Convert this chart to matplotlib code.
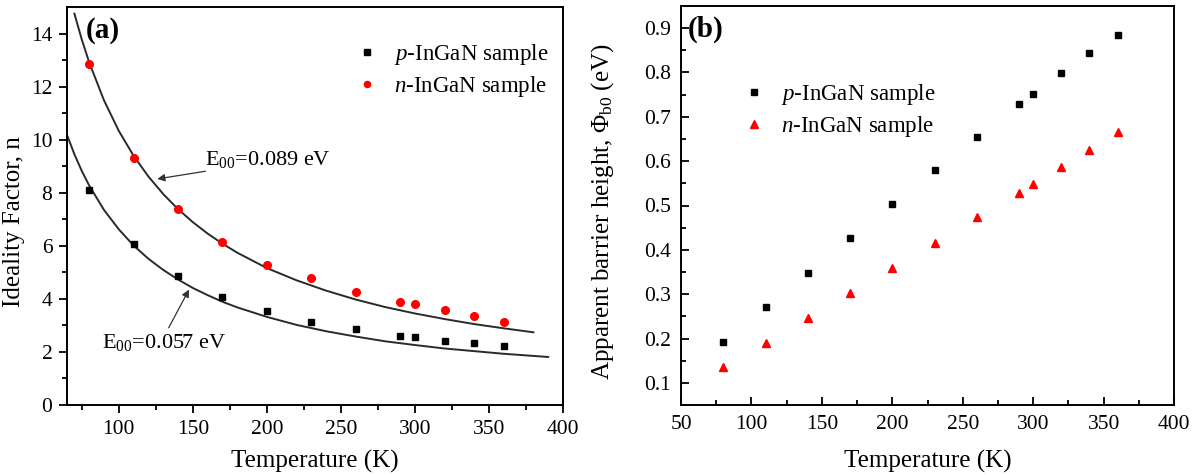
import matplotlib.pyplot as plt
import numpy as np

plt.rcParams['font.family'] = ['Liberation Serif', 'DejaVu Serif']
plt.rcParams['mathtext.fontset'] = 'custom'
plt.rcParams['mathtext.rm'] = 'Liberation Serif'
plt.rcParams['mathtext.it'] = 'Liberation Serif:italic'

# measured points (a): ideality factor
temps = [80, 110, 140, 170, 200, 230, 260, 290, 300, 320, 340, 360]
n_p = [8.12, 6.05, 4.85, 4.06, 3.56, 3.12, 2.85, 2.60, 2.56, 2.43, 2.34, 2.24]
n_n = [12.85, 9.31, 7.40, 6.16, 5.29, 4.77, 4.26, 3.90, 3.79, 3.57, 3.37, 3.13]

# fit curves
fit1_t = [70, 75, 80, 90, 100, 110, 120, 130, 140, 150, 160, 170, 180, 200,
          220, 240, 260, 280, 300, 320, 340, 360, 380]
fit1_n = [14.75, 13.77, 12.91, 11.48, 10.33, 9.39, 8.61, 7.95, 7.38, 6.89, 6.46,
          6.08, 5.74, 5.16, 4.70, 4.31, 3.975, 3.69, 3.45, 3.24, 3.05, 2.89, 2.74]
fit2_t = [65, 70, 75, 80, 90, 100, 110, 120, 130, 140, 150, 160, 170, 180, 200,
          220, 240, 260, 280, 300, 320, 340, 360, 380, 390]
fit2_n = [10.18, 9.45, 8.82, 8.27, 7.35, 6.62, 6.01, 5.51, 5.09, 4.73, 4.41, 4.14,
          3.89, 3.68, 3.32, 3.02, 2.78, 2.58, 2.40, 2.26, 2.13, 2.03, 1.93, 1.85, 1.81]

# measured points (b): barrier height
phi_p = [0.193, 0.271, 0.348, 0.426, 0.503, 0.580, 0.655, 0.728, 0.752, 0.799, 0.843, 0.885]
phi_n = [0.135, 0.190, 0.246, 0.303, 0.359, 0.415, 0.473, 0.529, 0.548, 0.587, 0.626, 0.665]

W, H = 1194, 475
fig = plt.figure(figsize=(W / 100, H / 100), dpi=100)
axa = fig.add_axes([67 / W, (H - 405) / H, 496 / W, 398 / H])
axb = fig.add_axes([681 / W, (H - 405) / H, 493 / W, 399 / H])


def style(ax, direction):
    for s in ax.spines.values():
        s.set_linewidth(1.4)
    ax.tick_params(which='both', direction=direction, top=False, right=False,
                   labelsize=15.5, width=1.3, pad=5)
    ax.tick_params(which='major', length=5.5)
    ax.tick_params(which='minor', length=3.5)


# panel (a)
axa.plot(fit1_t, fit1_n, color='#2a2a2a', lw=1.4)
axa.plot(fit2_t, fit2_n, color='#2a2a2a', lw=1.4)
axa.plot(temps, n_p, 's', color='black', ms=5, label=r'$\it{p}$-InGaN sample')
axa.plot(temps, n_n, 'o', color='red', ms=5.5, label=r'$\it{n}$-InGaN sample')
axa.set_xlim(65, 400)
axa.set_ylim(0, 15)
axa.set_xticks(np.arange(100, 401, 50))
axa.set_xticks(np.arange(75, 401, 25), minor=True)
axa.set_yticks(np.arange(0, 15, 2))
axa.set_yticks(np.arange(0, 15, 1), minor=True)
style(axa, 'out')
axa.set_xlabel('Temperature (K)', fontsize=18)
axa.set_ylabel('Ideality Factor, n', fontsize=18)
axa.xaxis.set_label_coords(0.5, -0.112)
axa.yaxis.set_label_coords(-0.084, 0.46)
axa.text(0.037, 0.975, '(a)', transform=axa.transAxes, fontsize=21,
         fontweight='bold', va='top', ha='left')
axa.legend(loc='upper left', bbox_to_anchor=(0.559, 0.94), frameon=False,
           fontsize=16.5, handlelength=1.0, handletextpad=0.68, borderpad=0,
           labelspacing=0.3, markerscale=0.8)
axa.annotate(r'E$_{00}$=0.089 eV', xy=(126, 8.52), xytext=(158.5, 9.25),
             fontsize=16, va='center', ha='left')
axa.annotate('', xy=(126, 8.52), xytext=(158.5, 8.81),
             arrowprops=dict(arrowstyle='-|>', color='#333333', lw=0.9,
                             mutation_scale=11, shrinkA=0, shrinkB=0))
axa.text(88.5, 2.34, r'E$_{00}$=0.057 eV', fontsize=16, va='center', ha='left')
axa.annotate('', xy=(147.4, 4.35), xytext=(133.7, 2.91),
             arrowprops=dict(arrowstyle='-|>', color='#333333', lw=0.9,
                             mutation_scale=11, shrinkA=0, shrinkB=0))

# panel (b)
axb.plot(temps, phi_p, 's', color='black', ms=5, label=r'$\it{p}$-InGaN sample')
axb.plot(temps, phi_n, '^', color='red', ms=6, label=r'$\it{n}$-InGaN sample')
axb.set_xlim(50, 400)
axb.set_ylim(0.05, 0.95)
axb.set_xticks(np.arange(50, 401, 50))
axb.set_xticks(np.arange(75, 401, 25), minor=True)
axb.set_yticks(np.arange(0.1, 0.91, 0.1))
axb.set_yticks(np.arange(0.05, 0.95, 0.05), minor=True)
style(axb, 'in')
axb.tick_params(which='both', pad=7)
axb.set_xlabel('Temperature (K)', fontsize=18)
axb.set_ylabel(r'Apparent barrier height, $\Phi_{\rm b0}$ (eV)', fontsize=18)
axb.xaxis.set_label_coords(0.5, -0.112)
axb.yaxis.set_label_coords(-0.131, 0.484)
axb.text(0.013, 0.975, '(b)', transform=axb.transAxes, fontsize=21,
         fontweight='bold', va='top', ha='left')
axb.legend(loc='upper left', bbox_to_anchor=(0.102, 0.837), frameon=False,
           fontsize=16.5, handlelength=1.0, handletextpad=0.68, borderpad=0,
           labelspacing=0.3, markerscale=0.9)

fig.savefig('out.png', dpi=100)
